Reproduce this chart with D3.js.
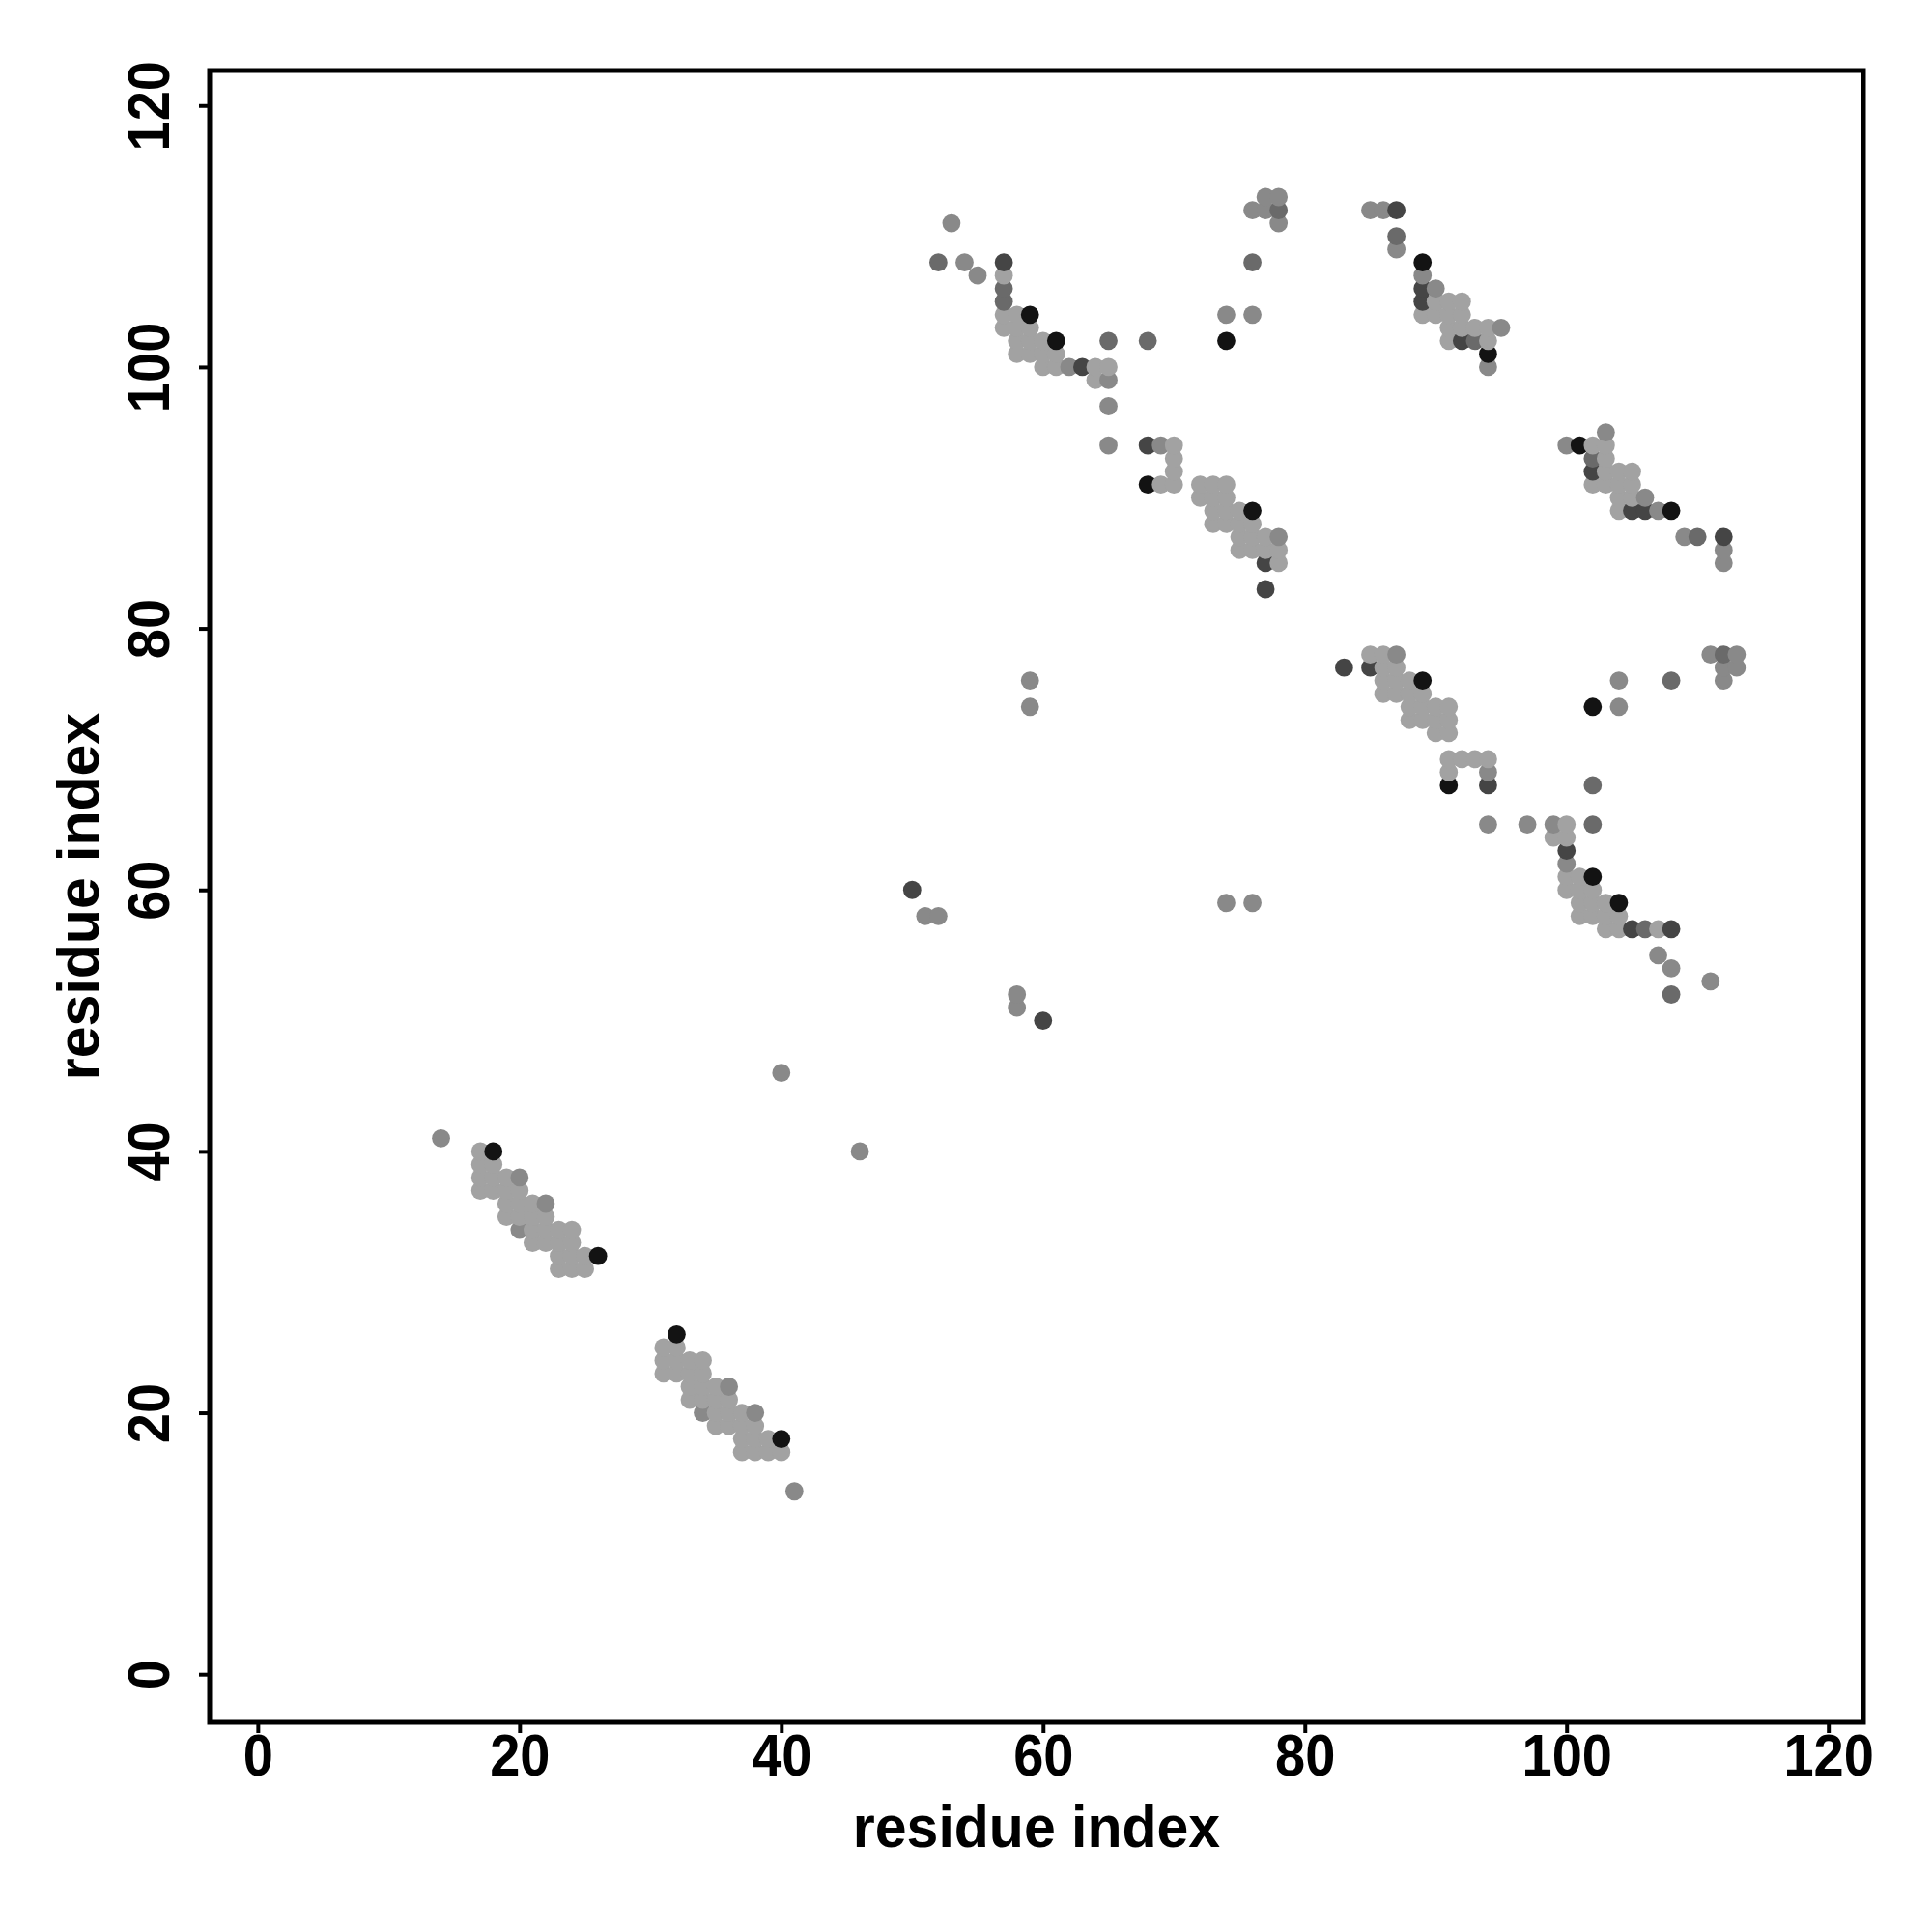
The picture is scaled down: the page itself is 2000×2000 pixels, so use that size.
<!DOCTYPE html>
<html>
<head>
<meta charset="utf-8">
<script src="https://cdn.jsdelivr.net/npm/d3@7"></script>
<style>
  body { margin: 0; background: #fff; }
  text { font-family: "Liberation Sans", Arial, Helvetica, sans-serif; font-weight: bold; fill: #000; }
</style>
</head>
<body>
<div id="chart"></div>
<script>
// contacts [residue i, residue j], grouped by grey shade
const lightContacts = [
  [17,40],[17,39],[17,38],[17,37],[18,39],[18,38],[18,37],[19,38],[19,37],[19,36],[19,35],
  [20,37],[20,36],[20,35],[21,36],[21,35],[21,34],[21,33],[22,35],[22,34],[22,33],
  [23,34],[23,33],[23,32],[23,31],[24,34],[24,33],[24,32],[24,31],[25,32],[25,31],
  [31,25],[31,24],[31,23],[32,25],[32,24],[32,23],[33,24],[33,23],[33,22],[33,21],
  [34,24],[34,23],[34,22],[34,21],[35,22],[35,21],[35,20],[35,19],[36,21],[36,20],[36,19],
  [37,20],[37,19],[37,18],[37,17],[38,19],[38,18],[38,17],[39,18],[39,17],[40,17],
  [57,107],[57,104],[58,104],[57,103],[58,103],[59,103],[58,102],[59,102],[60,102],
  [58,101],[59,101],[60,101],[61,101],[60,100],[61,100],[64,100],[65,100],[64,99],
  [107,57],[104,57],[104,58],[103,57],[103,58],[103,59],[102,58],[102,59],[102,60],
  [101,58],[101,59],[101,60],[101,61],[100,60],[100,61],[100,64],[100,65],[99,64],
  [70,94],[70,93],[70,92],[69,91],[70,91],[72,91],[73,91],[74,91],[72,90],[73,90],[74,90],
  [73,89],[74,89],[75,89],[73,88],[74,88],[75,88],[76,88],[75,87],[76,87],[77,87],
  [75,86],[76,86],[77,86],[78,86],[78,85],
  [94,70],[93,70],[92,70],[91,69],[91,70],[91,72],[91,73],[91,74],[90,72],[90,73],[90,74],
  [89,73],[89,74],[89,75],[88,73],[88,74],[88,75],[88,76],[87,75],[87,76],[87,77],
  [86,75],[86,76],[86,77],[86,78],[85,78],
  [89,104],[90,105],[90,104],[91,105],[91,104],[92,105],[92,104],[91,103],[92,103],
  [93,103],[94,103],[91,102],[94,102],
  [104,89],[105,90],[104,90],[105,91],[104,91],[105,92],[104,92],[103,91],[103,92],
  [103,93],[103,94],[102,91],[102,94]
];
const mediumContacts = [
  [14,41],[41,14],[20,38],[38,20],[22,36],[36,22],[20,34],[34,20],[40,46],[46,40],
  [51,58],[58,51],[52,58],[58,52],[59,74],[74,59],[59,76],[76,59],
  [53,111],[111,53],[54,108],[108,54],[55,107],[107,55],[62,100],[100,62],
  [65,99],[99,65],[65,97],[97,65],[65,94],[94,65],
  [77,113],[113,77],[78,113],[113,78],[76,112],[112,76],[77,112],[112,77],[78,111],[111,78],
  [74,104],[104,74],[76,104],[104,76],[69,94],[94,69],[78,87],[87,78],
  [85,112],[112,85],[86,112],[112,86],[87,109],[109,87],[89,107],[107,89],
  [90,106],[106,90],[95,103],[103,95],[94,100],[100,94]
];
const mediumDarkContacts = [
  [52,108],[108,52],[57,106],[106,57],[57,105],[65,102],[102,65],[68,102],[102,68],
  [78,112],[112,78],[76,108],[108,76],[87,110],[110,87],[93,102],[102,93]
];
const darkContacts = [
  [57,108],[108,57],[63,100],[100,63],[105,57],[50,60],[60,50],[68,94],[94,68],
  [77,85],[85,77],[77,83],[83,77],[87,112],[112,87],[89,106],[106,89],
  [89,105],[105,89],[92,102],[102,92]
];
const blackContacts = [
  [18,40],[40,18],[26,32],[32,26],[59,104],[104,59],[61,102],[102,61],[74,102],[102,74],
  [68,91],[91,68],[76,89],[89,76],[89,108],[108,89],[94,101],[101,94]
];

const shadeNames = ["light", "medium", "mediumDark", "dark", "black"];
const shadeColors = ["#a2a2a2", "#898989", "#6a6a6a", "#454545", "#131313"];
const xTicks = [0, 20, 40, 60, 80, 100, 120];
const yTicks = [0, 20, 40, 60, 80, 100, 120];
const axisTitle = "residue index";

// build one list, drawn in order of residue i then j
const groups = [lightContacts, mediumContacts, mediumDarkContacts, darkContacts, blackContacts];
const points = [];
groups.forEach((g, k) => g.forEach(([i, j]) => points.push({ i, j, shade: shadeNames[k] })));
points.sort((a, b) => a.i - b.i || a.j - b.j);

const width = 2000, height = 2000;
const box = { left: 217, right: 1929, top: 73, bottom: 1783 };

const x = d3.scaleLinear().domain([-3.68, 122.68]).range([box.left, box.right]);
const y = d3.scaleLinear().domain([-3.68, 122.68]).range([box.bottom, box.top]);
const shade = d3.scaleOrdinal().domain(shadeNames).range(shadeColors);

const svg = d3.select("#chart")
  .append("svg")
  .attr("width", width)
  .attr("height", height);

svg.append("rect")
  .attr("width", width).attr("height", height).attr("fill", "#fff");

// points
svg.append("g")
  .selectAll("circle")
  .data(points)
  .enter()
  .append("circle")
  .attr("cx", d => x(d.i))
  .attr("cy", d => y(d.j))
  .attr("r", 9.4)
  .attr("fill", d => shade(d.shade));

// x axis
const xAxis = svg.append("g")
  .attr("transform", `translate(0,${box.bottom})`)
  .call(d3.axisBottom(x).tickValues(xTicks).tickSize(11).tickFormat(d3.format("d")));
xAxis.select(".domain").remove();
xAxis.selectAll(".tick line").attr("stroke", "#000").attr("stroke-width", 4);
xAxis.selectAll(".tick text")
  .attr("y", null).attr("dy", null)
  .attr("transform", "translate(0,55) scale(1,1.1)")
  .style("font-size", "56px");

// y axis, labels turned like R's default
const yAxis = svg.append("g")
  .attr("transform", `translate(${box.left},0)`)
  .call(d3.axisLeft(y).tickValues(yTicks).tickSize(11).tickFormat(d3.format("d")));
yAxis.select(".domain").remove();
yAxis.selectAll(".tick line").attr("stroke", "#000").attr("stroke-width", 4);
yAxis.selectAll(".tick text")
  .attr("x", null).attr("dy", null)
  .attr("text-anchor", "middle")
  .attr("transform", "translate(-42,0) rotate(-90) scale(1,1.1)")
  .style("font-size", "56px");

// frame
svg.append("rect")
  .attr("x", box.left).attr("y", box.top)
  .attr("width", box.right - box.left)
  .attr("height", box.bottom - box.top)
  .attr("fill", "none")
  .attr("stroke", "#000")
  .attr("stroke-width", 5);

// axis titles
svg.append("text")
  .attr("text-anchor", "middle")
  .attr("transform", `translate(${(box.left + box.right) / 2},1912) scale(1,1.05)`)
  .style("font-size", "59px")
  .text(axisTitle);

svg.append("text")
  .attr("text-anchor", "middle")
  .attr("transform", `translate(102,${(box.top + box.bottom) / 2}) rotate(-90) scale(1,1.05)`)
  .style("font-size", "59px")
  .text(axisTitle);
</script>
</body>
</html>
